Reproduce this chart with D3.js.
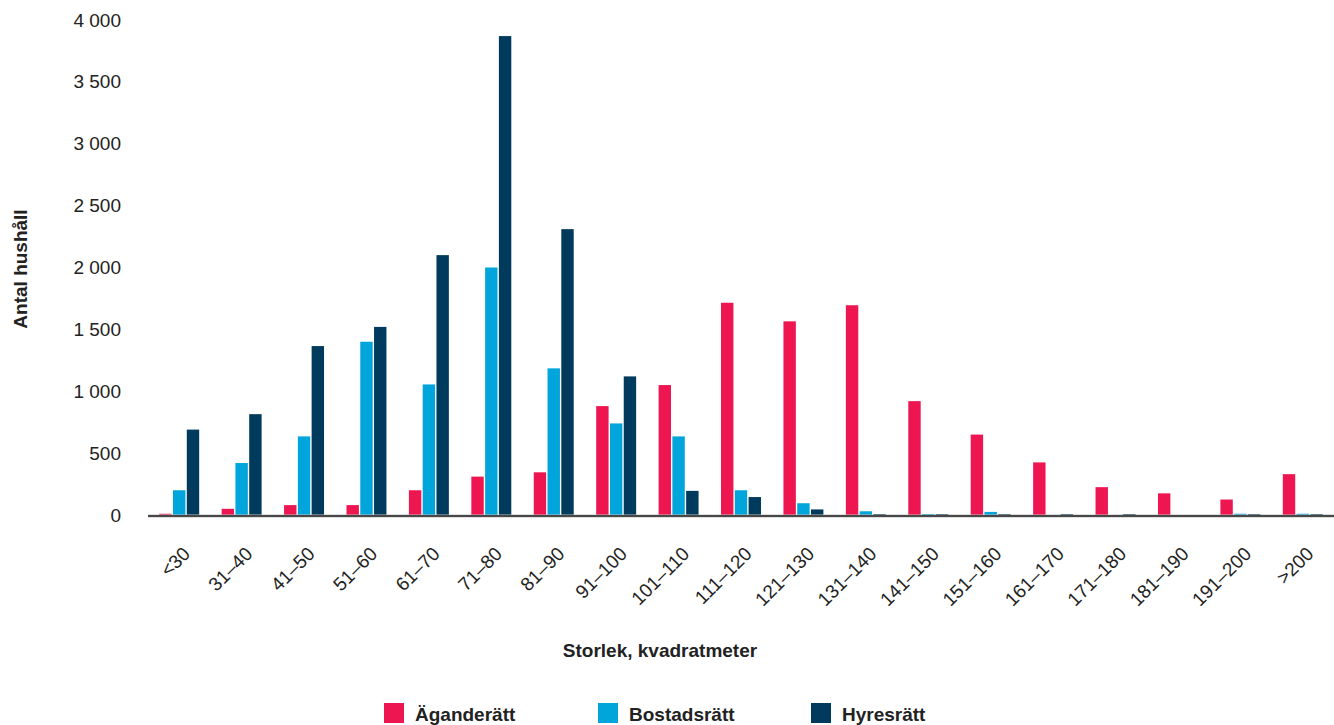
<html>
<script src="https://cdn.jsdelivr.net/npm/d3@7"></script>
<head>
    <style>
        body {
            margin: 0;
            font-family: "Liberation Sans", Arial, Helvetica, sans-serif;
            background: white;
        }
    </style>
</head>

<body>
    <svg id="Chart"></svg>
</body>

<script>
    // data
    let categories = ["<30", "31–40", "41–50", "51–60", "61–70", "71–80", "81–90", "91–100",
        "101–110", "111–120", "121–130", "131–140", "141–150", "151–160", "161–170",
        "171–180", "181–190", "191–200", ">200"];
    let seriesNames = ["Äganderätt", "Bostadsrätt", "Hyresrätt"];
    let aganderatt = [10, 50, 80, 80, 200, 310, 345, 880, 1050, 1715, 1565, 1695, 920, 650, 425, 225, 175, 125, 330];
    let bostadsratt = [200, 420, 635, 1400, 1055, 2000, 1185, 740, 635, 200, 95, 30, 8, 25, 0, 0, 0, 10, 10];
    let hyresratt = [690, 815, 1365, 1520, 2100, 3870, 2310, 1120, 195, 145, 45, 8, 8, 8, 8, 8, 0, 8, 8];
    let yTicks = [0, 500, 1000, 1500, 2000, 2500, 3000, 3500, 4000];
    let colors = ["#ee1651", "#00a5db", "#003a5d"];

    function getRows() {
        let series = [aganderatt, bostadsratt, hyresratt];
        return categories.map((c, i) => ({
            category: c,
            values: seriesNames.map((s, j) => ({ series: s, value: series[j][i] }))
        }));
    }

    // config
    function getConfig() {
        let width = 1334;
        let height = 725;
        let margin = { top: 20, bottom: 210, left: 148, right: 0 };
        let container = d3.select("#Chart")
            .attr("width", width)
            .attr("height", height);
        return { width, height, margin, container };
    }

    // scales
    function getScales(config) {
        let { width, height, margin } = config;
        let xScale = d3.scaleBand()
            .range([margin.left, width - margin.right])
            .domain(categories)
            .paddingInner(0.36)
            .paddingOuter(0.18);

        let subScale = d3.scaleBand()
            .range([0, xScale.bandwidth()])
            .domain(seriesNames)
            .paddingInner(0.1);

        let yScale = d3.scaleLinear()
            .range([height - margin.bottom, margin.top])
            .domain([0, 4000]);

        let colorScale = d3.scaleOrdinal()
            .domain(seriesNames)
            .range(colors);

        return { xScale, subScale, yScale, colorScale };
    }

    function drawBars(rows, scales, config) {
        let { xScale, subScale, yScale, colorScale } = scales;
        let groups = config.container.append("g")
            .selectAll("g")
            .data(rows)
            .enter().append("g")
            .attr("transform", d => `translate(${xScale(d.category)},0)`);

        groups.selectAll("rect")
            .data(d => d.values)
            .enter().append("rect")
            .attr("x", d => subScale(d.series))
            .attr("width", subScale.bandwidth())
            .attr("y", d => yScale(d.value))
            .attr("height", d => yScale(0) - yScale(d.value))
            .attr("fill", d => colorScale(d.series));
    }

    function drawAxes(scales, config) {
        let { xScale, yScale } = scales;
        let { container, margin, width } = config;

        // y axis: labels only
        let axisY = d3.axisLeft(yScale)
            .tickValues(yTicks)
            .tickSize(0)
            .tickPadding(0)
            .tickFormat(d => d3.format(",")(d).replace(",", " "));
        let gy = container.append("g")
            .attr("transform", `translate(121,0)`)
            .call(axisY);
        gy.select(".domain").remove();
        gy.selectAll("text")
            .attr("font-family", "Liberation Sans, Arial, sans-serif")
            .attr("font-size", 19)
            .attr("fill", "#222");

        // baseline
        container.append("line")
            .attr("x1", margin.left)
            .attr("x2", width)
            .attr("y1", yScale(0) + 1)
            .attr("y2", yScale(0) + 1)
            .attr("stroke", "#bbb")
            .attr("stroke-width", 3);
        container.append("line")
            .attr("x1", margin.left)
            .attr("x2", width)
            .attr("y1", yScale(0) + 1)
            .attr("y2", yScale(0) + 1)
            .attr("stroke", "#222")
            .attr("stroke-width", 1.6);

        // x axis labels
        let axisX = d3.axisBottom(xScale).tickSize(0).tickPadding(0);
        let gx = container.append("g")
            .attr("transform", `translate(0,${yScale(0)})`)
            .call(axisX);
        gx.select(".domain").remove();
        gx.selectAll("text")
            .attr("font-family", "Liberation Sans, Arial, sans-serif")
            .attr("font-size", 19)
            .attr("fill", "#222")
            .attr("text-anchor", "end")
            .attr("dy", null)
            .attr("y", null)
            .attr("transform", "translate(12,40) rotate(-45)");

        // axis titles
        container.append("text")
            .attr("transform", `translate(27,269) rotate(-90)`)
            .attr("text-anchor", "middle")
            .attr("font-size", 19)
            .attr("font-weight", "bold")
            .attr("fill", "#222")
            .text("Antal hushåll");

        container.append("text")
            .attr("x", 660)
            .attr("y", 657)
            .attr("text-anchor", "middle")
            .attr("font-size", 19)
            .attr("font-weight", "bold")
            .attr("fill", "#222")
            .text("Storlek, kvadratmeter");
    }

    function drawLegend(scales, config) {
        let { colorScale } = scales;
        let positions = [384, 598, 811];
        let legend = config.container.append("g")
            .selectAll("g")
            .data(seriesNames)
            .enter().append("g")
            .attr("transform", (d, i) => `translate(${positions[i]},703)`);
        legend.append("rect")
            .attr("width", 20)
            .attr("height", 20)
            .attr("fill", d => colorScale(d));
        legend.append("text")
            .attr("x", 31)
            .attr("y", 18)
            .attr("font-size", 19)
            .attr("font-weight", "bold")
            .attr("fill", "#222")
            .text(d => d);
    }

    function showChart() {
        let rows = getRows();
        let config = getConfig();
        let scales = getScales(config);
        drawBars(rows, scales, config);
        drawAxes(scales, config);
        drawLegend(scales, config);
    }

    showChart();
</script>
</html>
